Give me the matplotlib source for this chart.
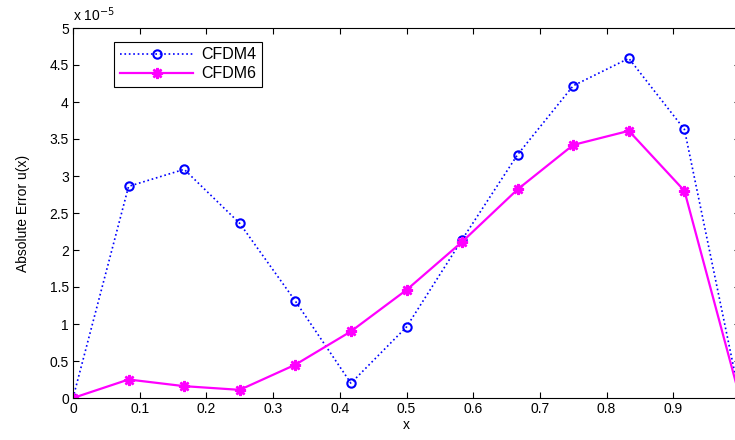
import matplotlib.pyplot as plt
import matplotlib
import numpy as np

matplotlib.rcParams.update({'font.size': 10, 'font.family': ['Liberation Sans', 'DejaVu Sans']})

scale = 1e-5
x = np.arange(13) / 12.0
cfdm4 = [0, 2.86, 3.09, 2.36, 1.31, 0.20, 0.96, 2.14, 3.29, 4.22, 4.59, 3.63, 0]
cfdm6 = [0, 0.25, 0.16, 0.11, 0.45, 0.90, 1.46, 2.11, 2.82, 3.42, 3.61, 2.80, 0]
xlabels = ['0', '0.1', '0.2', '0.3', '0.4', '0.5', '0.6', '0.7', '0.8', '0.9', '']
ylabels = ['0', '0.5', '1', '1.5', '2', '2.5', '3', '3.5', '4', '4.5', '5']

fig = plt.figure(figsize=[7.35, 4.4], dpi=100)
ax = fig.add_axes([73/735, 42/440, 667/735, 370/440])

ax.plot(x, np.array(cfdm4)*scale, color='blue', linestyle=':', linewidth=1.2,
        marker='o', markersize=6, markerfacecolor='none', markeredgewidth=1.5, label='CFDM4')
ax.plot(x, np.array(cfdm6)*scale, color='magenta', linestyle='-', linewidth=1.6,
        marker=(8, 2, 0), markersize=8, markeredgewidth=1.8, label='CFDM6')

ax.set_xlim(0, 1)
ax.set_ylim(0, 5e-5)
ax.set_xticks(np.arange(0, 1.01, 0.1))
ax.set_xticklabels(xlabels)
ax.set_yticks(np.arange(0, 5.01, 0.5)*scale)
ax.set_yticklabels(ylabels)
ax.tick_params(direction='in', top=True, right=True, length=4, pad=3)
ax.set_xlabel('x', labelpad=1)
ax.set_ylabel('Absolute Error u(x)', labelpad=14)
ax.text(0.0, 1.012, r'x 10$^{-5}$', transform=ax.transAxes, fontsize=10, va='bottom', ha='left')

leg = ax.legend(loc='upper left', bbox_to_anchor=(0.05, 0.985), fancybox=False,
                edgecolor='black', framealpha=1, handlelength=4.6, handletextpad=0.5,
                borderpad=0.35, labelspacing=0.25, fontsize=11.5)
leg.get_frame().set_linewidth(0.8)

fig.savefig('out.png', dpi=100)
